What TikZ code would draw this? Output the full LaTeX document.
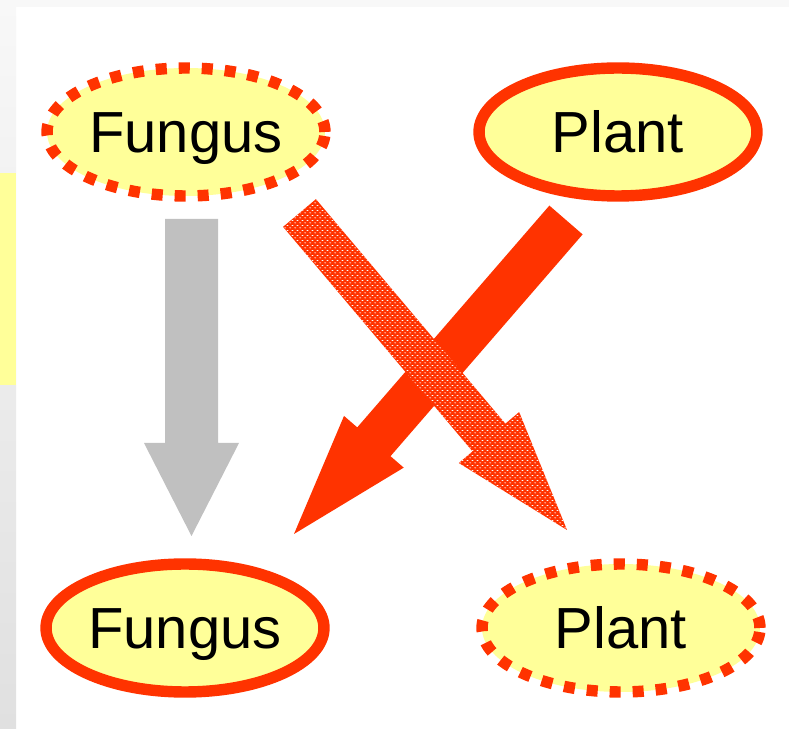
\documentclass[tikz,border=0pt]{standalone}
\usepackage{fontspec}
\setmainfont{Liberation Sans}
\usetikzlibrary{calc, shapes.geometric, patterns}

% small white flecks on the hatched arrow
\pgfdeclarepatternformonly{redDots}{\pgfpointorigin}{\pgfpoint{3pt}{3pt}}{\pgfpoint{3pt}{3pt}}{%
    \pgfpathellipse{\pgfpoint{0.75pt}{0.75pt}}{\pgfpoint{0.7pt}{0pt}}{\pgfpoint{0pt}{0.3pt}}%
    \pgfpathellipse{\pgfpoint{2.25pt}{2.25pt}}{\pgfpoint{0.7pt}{0pt}}{\pgfpoint{0pt}{0.3pt}}%
    \pgfusepath{fill}}

\begin{document}
\begin{tikzpicture}[x=0.02cm, y=-0.02cm]
    % One unit is one pixel of the slide
    \def\px{0.02cm}

    \definecolor{ovalRed}{HTML}{FF3300}
    \definecolor{ovalFill}{HTML}{FFFF99}
    \definecolor{arrowGrey}{HTML}{C0C0C0}
    \definecolor{stripTop}{HTML}{F8F8F8}
    \definecolor{stripBottom}{HTML}{E0E0E0}

    \tikzset{
        oval/.style={ellipse, fill=ovalFill, draw=ovalRed, line width=6.5pt,
            minimum width=5.56cm, minimum height=2.56cm, inner sep=0pt,
            text height=23.6pt, text depth=0pt,
            font=\fontsize{33}{40}\selectfont},
        solidOval/.style={oval},
        dottedOval/.style={oval, dash pattern=on 6.3pt off 6.8pt},
        greyArrow/.style={fill=arrowGrey},
        solidArrow/.style={fill=ovalRed},
        hatchedArrow/.style={pattern=redDots, pattern color=white, preaction={fill=ovalRed}}
    }

    % Block arrow: style, tail, tip, half shaft, half head, head length
    \newcommand{\blockArrow}[6]{%
        \coordinate (neck) at ($(#3)!#6*\px!(#2)$);
        \path[#1] ($(#2)!#4*\px!90:(#3)$) -- ($(neck)!#4*\px!90:(#3)$)
            -- ($(neck)!#5*\px!90:(#3)$) -- (#3)
            -- ($(neck)!#5*\px!-90:(#3)$) -- ($(neck)!#4*\px!-90:(#3)$)
            -- ($(#2)!#4*\px!-90:(#3)$) -- cycle;}

    % Slide background
    \useasboundingbox (0,0) rectangle (789,729);
    \fill[white] (0,0) rectangle (789,729);
    \shade[top color=stripTop, bottom color=stripBottom] (0,0) rectangle (16,729);
    \fill[stripTop] (16,0) rectangle (789,7);
    \fill[ovalFill] (0,173) rectangle (16,385);

    % Ovals
    \node[dottedOval] (fungusTop) at (186,132) {Fungus};
    \node[solidOval] (plantTop) at (618,132) {Plant};
    \node[solidOval] (fungusBot) at (185,628) {Fungus};
    \node[dottedOval] (plantBot) at (621,628) {Plant};

    % Arrow ends
    \coordinate (greyTail) at ([shift={(5.5,87)}]fungusTop.center);
    \coordinate (greyTip) at ([shift={(6.5,-92)}]fungusBot.center);
    \coordinate (solidTail) at ([shift={(-52,88)}]plantTop.center);
    \coordinate (solidTip) at ([shift={(109,-94)}]fungusBot.center);
    \coordinate (hatchedTail) at ([shift={(113.5,81)}]fungusTop.center);
    \coordinate (hatchedTip) at ([shift={(-54,-98)}]plantBot.center);

    % Arrows
    \blockArrow{greyArrow}{greyTail}{greyTip}{26.5}{47.5}{93}
    \blockArrow{solidArrow}{solidTail}{solidTip}{22}{39.5}{122}
    \blockArrow{hatchedArrow}{hatchedTail}{hatchedTip}{21.5}{39.5}{121}

\end{tikzpicture}
\end{document}
